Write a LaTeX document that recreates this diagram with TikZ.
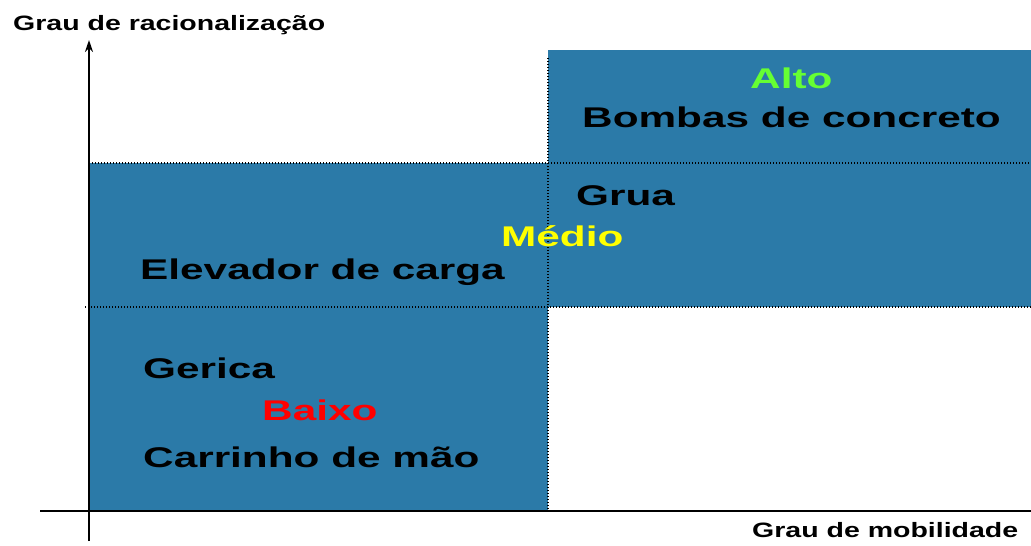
\documentclass[tikz,border=0pt]{standalone}
\usepackage{fontspec}
\usetikzlibrary{arrows.meta}
\setmainfont{Liberation Sans}
\newfontfamily\bigf[FakeStretch=1.485]{Liberation Sans Bold}
\newfontfamily\smallf[FakeStretch=1.37]{Liberation Sans Bold}
\definecolor{boxblue}{RGB}{43,122,168}
\definecolor{altogreen}{RGB}{102,255,51}
\definecolor{medioyellow}{RGB}{255,255,0}
\definecolor{baixored}{RGB}{255,0,0}
\begin{document}
\begin{tikzpicture}[x=1pt,y=-1pt,
  region/.style={fill=boxblue,draw=none},
  sep/.style={draw=black,line width=1.4pt,dash pattern=on 1.2pt off 1.8pt},
  axis/.style={draw=black,line width=2pt},
  biglbl/.style={anchor=base west,inner sep=0pt,font=\bigf\fontsize{28.5}{30}\selectfont},
  smalllbl/.style={anchor=base west,inner sep=0pt,font=\smallf\fontsize{20.8}{22}\selectfont}]
\useasboundingbox (0,0) rectangle (1031,546);
% regions
\fill[region] (89,163) rectangle (548,511);
\fill[region] (548,50) rectangle (1031,307);
% separators
\coordinate (h1a) at (89,163);
\coordinate (h1b) at (1031,163);
\coordinate (h2a) at (85,307);
\coordinate (h2b) at (1031,307);
\coordinate (v1a) at (548,58);
\coordinate (v1b) at (548,511);
\draw[sep] (h1a) -- (h1b);
\draw[sep] (h2a) -- (h2b);
\draw[sep] (v1a) -- (v1b);
% axes
\coordinate (ytop) at (89,40);
\coordinate (ybot) at (89,541);
\coordinate (xl) at (40,511);
\coordinate (xr) at (1031,511);
\draw[axis,-{Stealth[length=12pt,width=8pt]}] (ybot) -- (ytop);
\draw[axis] (xl) -- (xr);
% axis labels
\node[smalllbl] (ylab) at (13,30) {Grau de racionalização};
\node[smalllbl] (xlab) at (752,537) {Grau de mobilidade};
% contents
\node[biglbl,text=altogreen] (alto) at (750,88) {Alto};
\node[biglbl] (bombas) at (582,127) {Bombas de concreto};
\node[biglbl] (grua) at (576,205) {Grua};
\node[biglbl,text=medioyellow] (medio) at (501,246) {Médio};
\node[biglbl] (elev) at (140,279) {Elevador de carga};
\node[biglbl] (gerica) at (143,378) {Gerica};
\node[biglbl,text=baixored] (baixo) at (262,420) {Baixo};
\node[biglbl] (carr) at (143,467) {Carrinho de mão};
\end{tikzpicture}
\end{document}
